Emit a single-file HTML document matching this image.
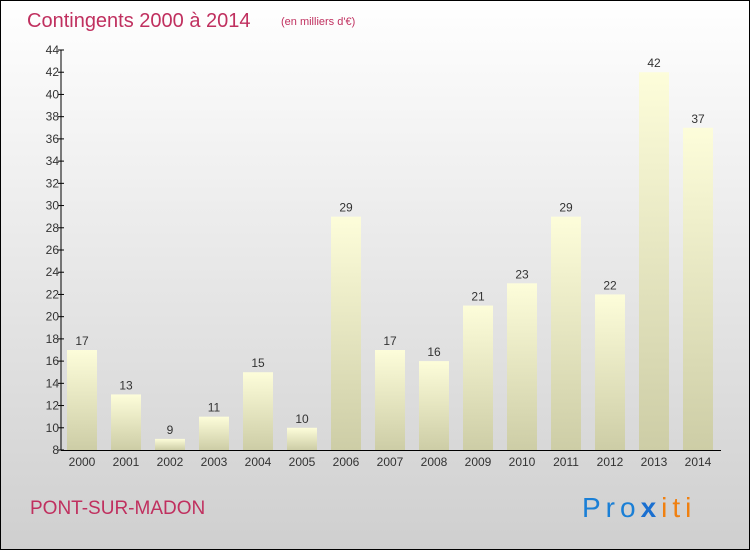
<!DOCTYPE html>
<html><head><meta charset="utf-8"><style>
body{margin:0}
svg{display:block}
text{font-family:"Liberation Sans",sans-serif}
</style></head><body>
<svg id="c" width="750" height="550" xmlns="http://www.w3.org/2000/svg">
<defs>
<linearGradient id="bg" x1="0" y1="0" x2="0" y2="1"><stop offset="0" stop-color="#ffffff"/><stop offset="1" stop-color="#cfcfcf"/></linearGradient>
<linearGradient id="bar" x1="0" y1="0" x2="0" y2="1"><stop offset="0" stop-color="#fdfdda"/><stop offset="1" stop-color="#cdcda6"/></linearGradient>
</defs>
<rect x="0.5" y="0.5" width="749" height="549" fill="url(#bg)" stroke="#000"/>
<text x="27" y="27" font-size="20" fill="#c0305f">Contingents 2000 à 2014</text>
<text x="281" y="25" font-size="11" fill="#c0305f">(en milliers d'€)</text>
<text x="30" y="514" font-size="19" fill="#c0305f">PONT-SUR-MADON</text>
<text x="582" y="517" font-size="28" letter-spacing="5"><tspan fill="#1a7fd6">Pro</tspan><tspan fill="#1a6fd0" font-weight="bold">x</tspan><tspan fill="#f08010">iti</tspan></text>
<g id="plot"></g>
</svg>
<script>
const years=["2000","2001","2002","2003","2004","2005","2006","2007","2008","2009","2010","2011","2012","2013","2014"];
const values=[17,13,9,11,15,10,29,17,16,21,23,29,22,42,37];
const ticks=[8,10,12,14,16,18,20,22,24,26,28,30,32,34,36,38,40,42,44];
const NS="http://www.w3.org/2000/svg";
const g=document.getElementById('plot');
const y0=450,y1=50,vmin=8,vmax=44;
const y=v=>y0-(v-vmin)/(vmax-vmin)*(y0-y1);
const x=i=>82+i*44;
function mk(t,a,txt){const e=document.createElementNS(NS,t);for(const k in a)e.setAttribute(k,a[k]);if(txt!=null)e.textContent=txt;g.appendChild(e);return e;}
values.forEach((v,i)=>{
 const r=mk('rect',{x:x(i)-15,y:y(v),width:30,height:y0-y(v),fill:'url(#bar)'});
 
 
 const l=mk('text',{x:x(i),y:y(v)-5,'font-size':12,'text-anchor':'middle',fill:'#333'},String(v));
 
 
 const xl=mk('text',{x:x(i),y:466,'font-size':12,'text-anchor':'middle',fill:'#333'},years[i]);
 
 
});
const ya=mk('line',{x1:61,y1:y1,x2:61,y2:y0,stroke:'#000'});


const xa=mk('line',{x1:61,y1:y0+0.5,x2:721,y2:y0+0.5,stroke:'#000'});


ticks.forEach(t=>{
 mk('line',{x1:58,y1:y(t),x2:64,y2:y(t),stroke:'#000'});
 const tl=mk('text',{x:59,y:y(t)+4,'font-size':12,'text-anchor':'end',fill:'#333'},String(t));
 
 
});
</script>
</body></html>
